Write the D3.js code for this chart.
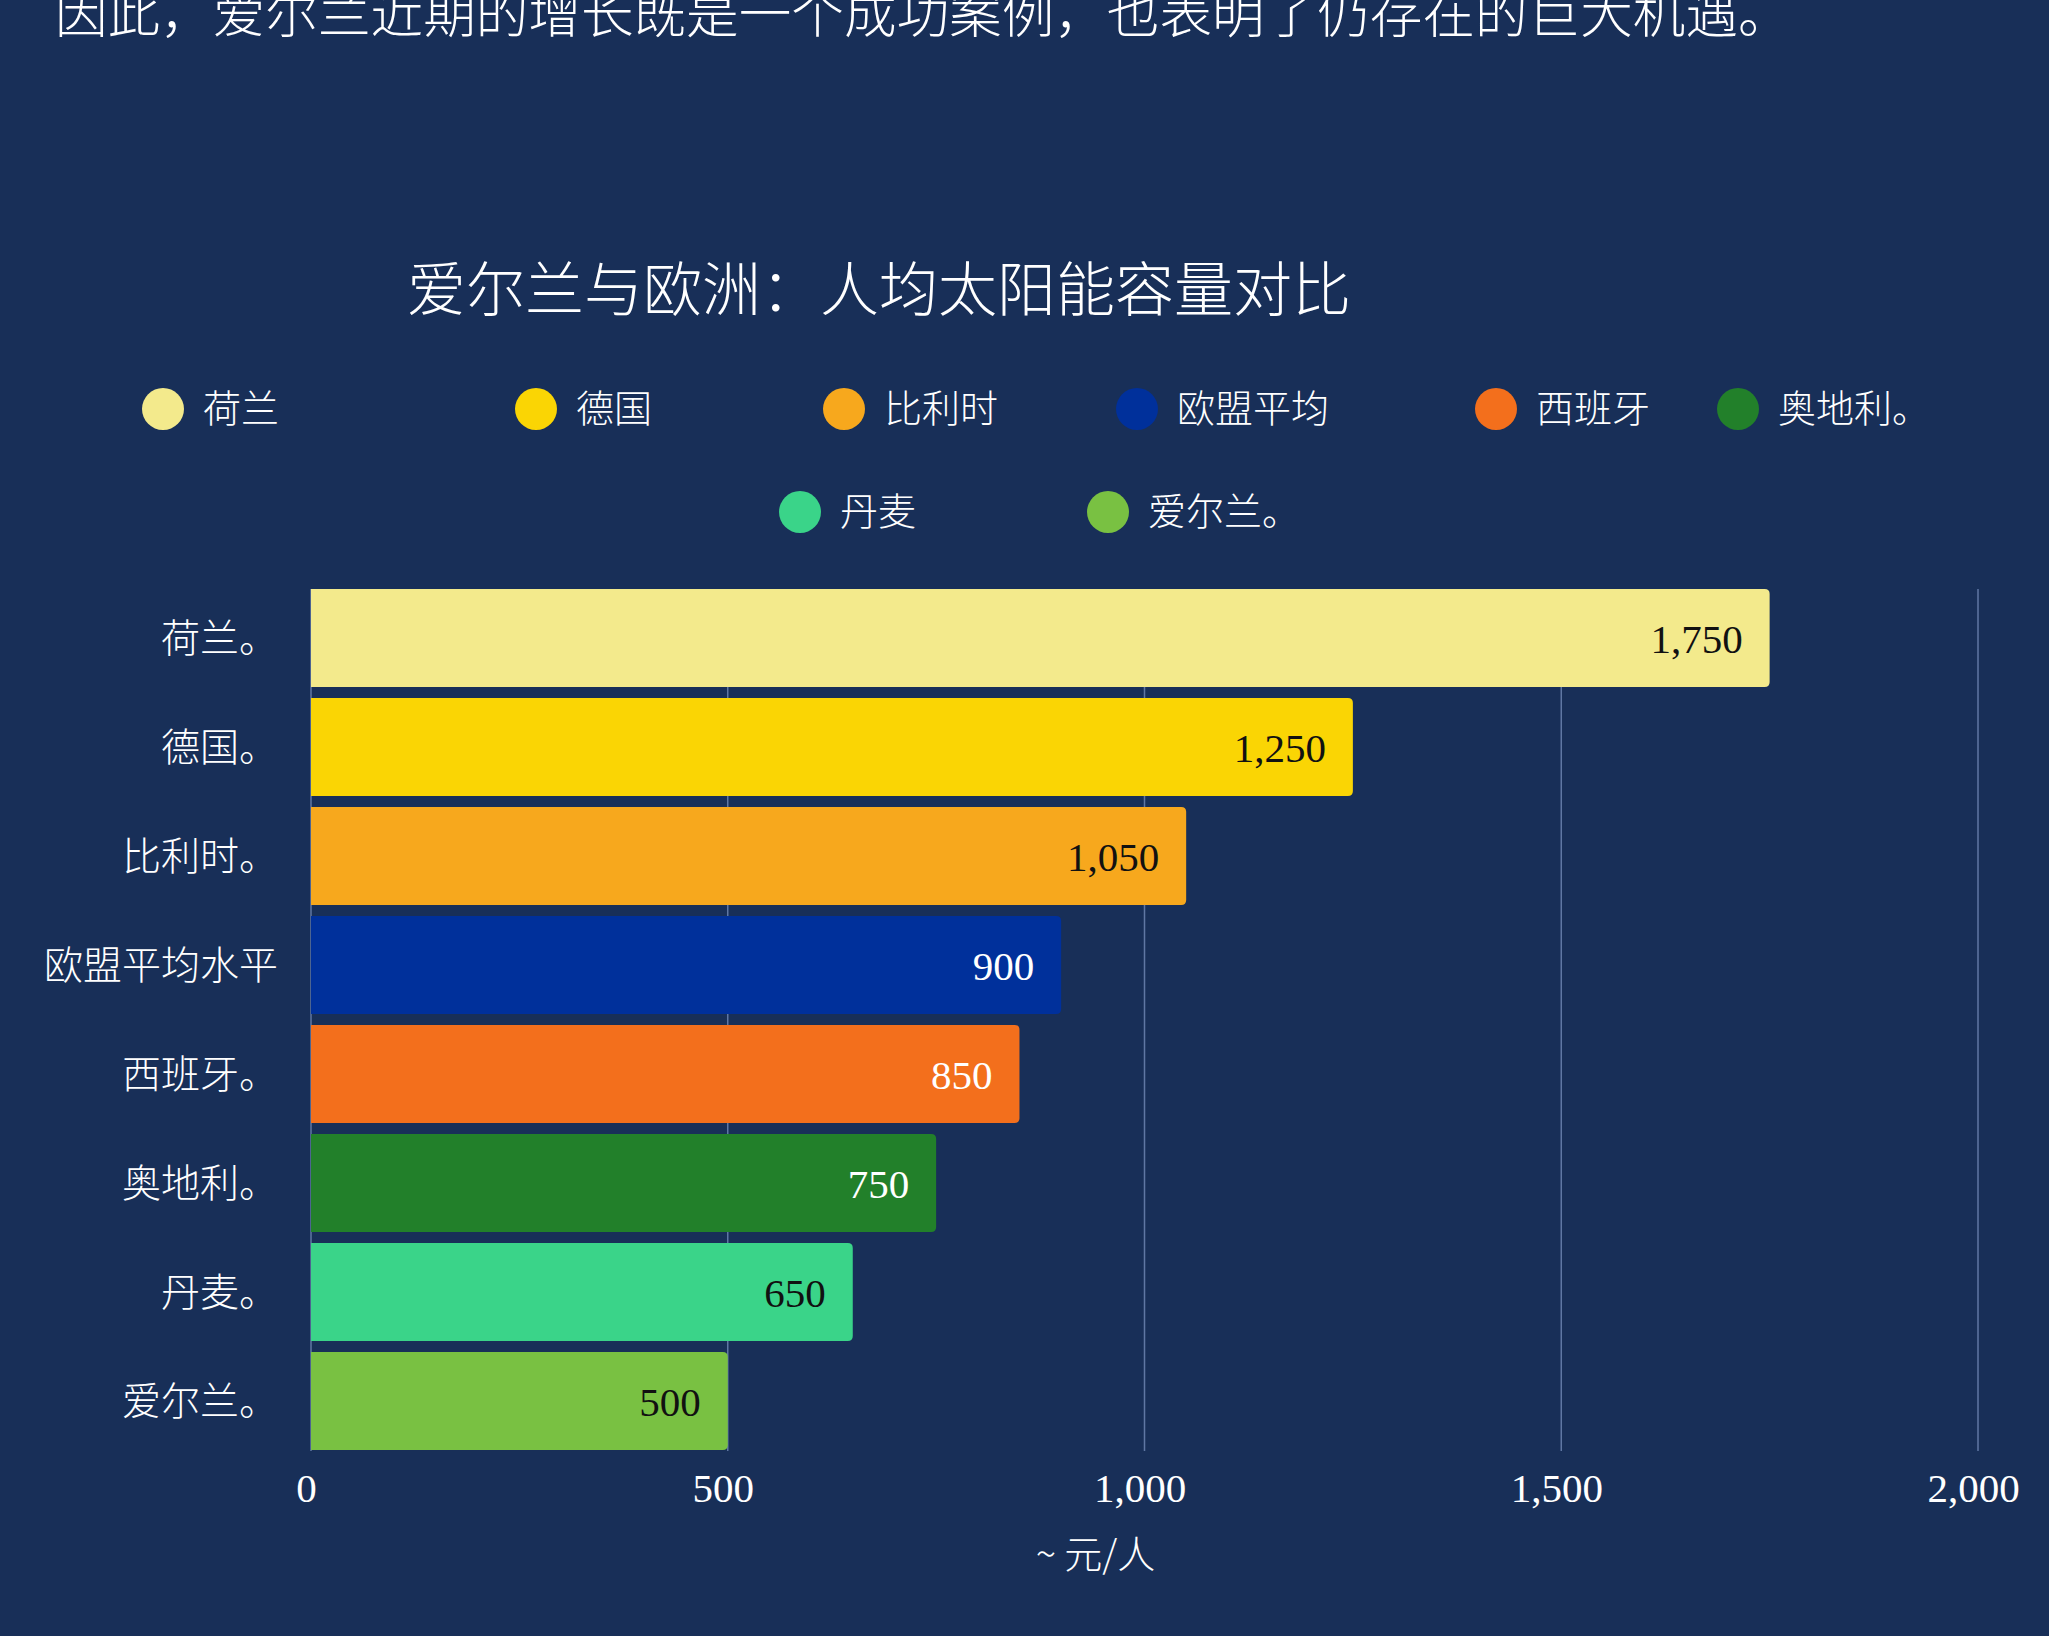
<!DOCTYPE html>
<html>
<head>
<meta charset="utf-8">
<script src="https://cdn.jsdelivr.net/npm/d3@7"></script>
<style>
  body { margin: 0; background: #182f58; }
  svg { display: block; }
  .cjk { font-family: "Noto Sans CJK SC", "Noto Sans", sans-serif; font-weight: 300; fill: #ffffff; }
  .num { font-family: "Liberation Serif", "DejaVu Serif", serif; }
</style>
</head>
<body>
<div id="chart"></div>
<script>
/* DATA */
const countries = ["荷兰。", "德国。", "比利时。", "欧盟平均水平", "西班牙。", "奥地利。", "丹麦。", "爱尔兰。"];
const values = [1750, 1250, 1050, 900, 850, 750, 650, 500];
const barColors = ["#f3ea8c", "#fad504", "#f7a81d", "#00309b", "#f36f1c", "#22802a", "#3ad489", "#79c142"];
const labelColors = ["#111111", "#111111", "#111111", "#ffffff", "#ffffff", "#ffffff", "#111111", "#111111"];
const legendNames = ["荷兰", "德国", "比利时", "欧盟平均", "西班牙", "奥地利。", "丹麦", "爱尔兰。"];
const xTicks = [0, 500, 1000, 1500, 2000];

const introText = "因此，爱尔兰近期的增长既是一个成功案例，也表明了仍存在的巨大机遇。";
const titleText = "爱尔兰与欧洲：人均太阳能容量对比";
const axisTitle = "~ 元/人";

/* LAYOUT */
const width = 2049;
const height = 1636;
const plot = { left: 311, right: 1978, top: 589, bottom: 1450 };
// legend slots come from the original (wrapped) legend layout
const legendRows = [
  { x0: 142, y: 409, slots: [373, 308, 293, 359, 242, 0] },
  { x0: 779, y: 512, slots: [308, 0] }
];

const svg = d3.select("#chart")
  .append("svg")
  .attr("width", width)
  .attr("height", height);

svg.append("rect")
  .attr("width", width)
  .attr("height", height)
  .attr("fill", "#182f58");

// intro line, cut at the top of the page (as in the source)
svg.append("text")
  .attr("class", "cjk")
  .attr("x", 55)
  .attr("y", 33)
  .style("font-size", "52.6px")
  .text(introText);

// chart title
svg.append("text")
  .attr("class", "cjk")
  .attr("x", 407)
  .attr("y", 311)
  .style("font-size", "59px")
  .text(titleText);

/* LEGEND */
let idx = 0;
legendRows.forEach(row => {
  let x = row.x0;
  row.slots.forEach(w => {
    const g = svg.append("g").attr("transform", `translate(${x},${row.y})`);
    g.append("circle")
      .attr("cx", 21)
      .attr("cy", 0)
      .attr("r", 21)
      .attr("fill", barColors[idx]);
    g.append("text")
      .attr("class", "cjk")
      .attr("x", 61)
      .attr("y", 0)
      .attr("dy", "0.35em")
      .style("font-size", "38px")
      .text(legendNames[idx]);
    x += w;
    idx++;
  });
});

/* SCALES */
const xScale = d3.scaleLinear()
  .domain([0, 2000])
  .range([plot.left, plot.right]);

const yScale = d3.scaleBand()
  .domain(countries)
  .range([plot.top, plot.bottom])
  .paddingInner(0.1)
  .paddingOuter(0);

/* GRID */
svg.append("g")
  .selectAll("line")
  .data(xTicks)
  .join("line")
  .attr("x1", d => xScale(d))
  .attr("x2", d => xScale(d))
  .attr("y1", plot.top)
  .attr("y2", plot.bottom + 1)
  .attr("stroke", "#5f77a3")
  .attr("stroke-width", 1.5);

/* X AXIS (labels only) */
const xAxis = d3.axisBottom(xScale)
  .tickValues(xTicks)
  .tickFormat(d3.format(","))
  .tickSize(0)
  .tickPadding(0);

const gx = svg.append("g")
  .attr("transform", `translate(0,${plot.bottom})`)
  .call(xAxis);
gx.select(".domain").remove();
gx.selectAll("text")
  .attr("class", "num")
  .attr("x", -5)
  .attr("y", 52)
  .attr("dy", 0)
  .attr("fill", "#ffffff")
  .style("font-size", "41px")
  .style("font-weight", 300);

svg.append("text")
  .attr("class", "cjk")
  .attr("x", (plot.left + plot.right) / 2 - 49)
  .attr("y", 1568)
  .attr("text-anchor", "middle")
  .style("font-size", "38px")
  .text(axisTitle);

/* BARS - square left, rounded right */
const r = 5;
function barPath(i) {
  const x0 = xScale(0);
  const x1 = xScale(values[i]);
  const y0 = yScale(countries[i]);
  const h = yScale.bandwidth();
  return `M${x0},${y0}H${x1 - r}Q${x1},${y0} ${x1},${y0 + r}V${y0 + h - r}Q${x1},${y0 + h} ${x1 - r},${y0 + h}H${x0}Z`;
}

svg.append("g")
  .selectAll("path")
  .data(countries)
  .join("path")
  .attr("d", (d, i) => barPath(i))
  .attr("fill", (d, i) => barColors[i]);

/* VALUE LABELS */
svg.append("g")
  .selectAll("text")
  .data(countries)
  .join("text")
  .attr("class", "num")
  .attr("x", (d, i) => xScale(values[i]) - 27)
  .attr("y", d => yScale(d) + yScale.bandwidth() / 2 + 15)
  .attr("text-anchor", "end")
  .attr("fill", (d, i) => labelColors[i])
  .style("font-size", "41px")
  .text((d, i) => d3.format(",")(values[i]));

/* Y LABELS */
svg.append("g")
  .selectAll("text")
  .data(countries)
  .join("text")
  .attr("class", "cjk")
  .attr("x", 278)
  .attr("y", d => yScale(d) + yScale.bandwidth() / 2)
  .attr("dy", "0.35em")
  .attr("text-anchor", "end")
  .style("font-size", "39px")
  .text(d => d);
</script>
</body>
</html>
